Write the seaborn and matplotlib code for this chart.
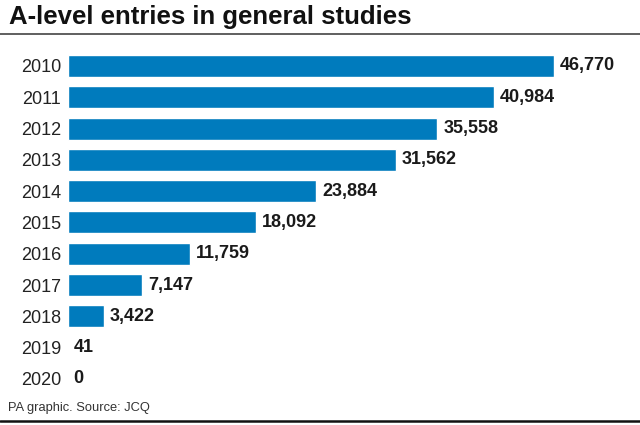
import matplotlib
matplotlib.use("Agg")
import matplotlib.pyplot as plt
import seaborn as sns
import pandas as pd
from matplotlib.lines import Line2D

years = ["2010", "2011", "2012", "2013", "2014", "2015", "2016", "2017", "2018", "2019", "2020"]
entries = [46770, 40984, 35558, 31562, 23884, 18092, 11759, 7147, 3422, 41, 0]

df = pd.DataFrame({"year": years, "entries": entries})

sns.set_theme(style="white")
plt.rcParams['font.family'] = ['Liberation Sans', 'DejaVu Sans']

fig = plt.figure(figsize=(6.4, 4.25), dpi=100)
ax = fig.add_axes([68 / 640, 1 - 394.6 / 425, (554 - 68) / 640, 344.3 / 425])

sns.barplot(data=df, x="entries", y="year", color="#007bbd", width=0.7,
            saturation=1, ax=ax)

ax.set_xlim(0, max(entries))
ax.set_ylim(len(years) - 0.5, -0.5)
ax.set_xlabel("")
ax.set_ylabel("")
ax.set_xticks([])
sns.despine(ax=ax, left=True, bottom=True)
ax.tick_params(axis="y", length=0, pad=5, labelsize=13, labelcolor="#222222")

for i, v in enumerate(entries):
    ax.text(v + 550, i, f"{v:,}", va="center", ha="left", fontsize=13,
            fontweight="bold", color="#1a1a1a", clip_on=False)

# title, rules and source
fig.text(9 / 640, 1 - 17 / 425, "A-level entries in general studies", fontsize=18.5,
         fontweight="bold", va="center", ha="left", color="#111111")
fig.add_artist(Line2D([0, 1], [1 - 34 / 425] * 2, color="#444444", lw=1.2))
fig.text(8 / 640, 1 - 408 / 425, "PA graphic. Source: JCQ", fontsize=9.3,
         va="center", ha="left", color="#333333")
fig.add_artist(Line2D([0, 1], [1 - 421 / 425] * 2, color="#111111", lw=1.8))

fig.savefig("out.png", dpi=100)
